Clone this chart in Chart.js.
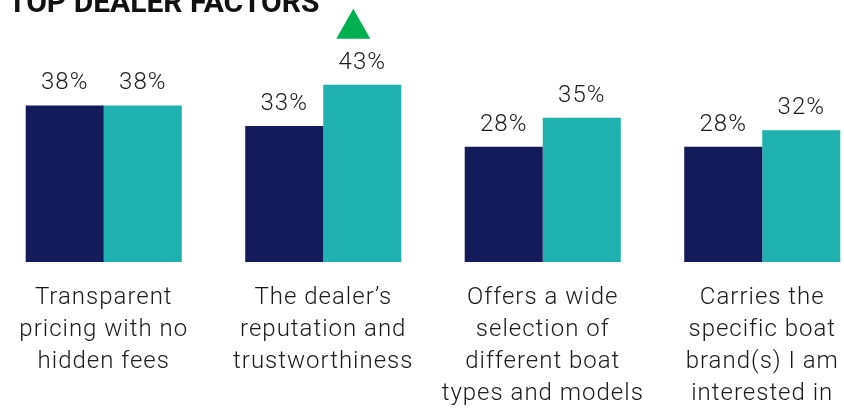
<!DOCTYPE html>
<html>
<head>
<meta charset="utf-8">
<script src="https://cdn.jsdelivr.net/npm/chart.js@4/dist/chart.umd.min.js"></script>
<style>
  html, body { margin: 0; padding: 0; background: #fff; overflow: hidden; }
  #wrap { position: absolute; left: -6px; top: 0; width: 878px; height: 430px; }
</style>
</head>
<body>
<div id="wrap"><canvas id="chart"></canvas></div>
<script>
// chart data
var categories = [
    ["Transparent", "pricing with no", "hidden fees"],
    ["The dealer\u2019s", "reputation and", "trustworthiness"],
    ["Offers a wide", "selection of", "different boat", "types and models"],
    ["Carries the", "specific boat", "brand(s) I am", "interested in"]
];
var seriesPrev = [38, 33, 28, 28];
var seriesCurr = [38, 43, 35, 32];
var titleText = "TOP DEALER FACTORS";
var upIndex = 1; // group with the green up arrow

var NAVY = "#141b5a";
var TEAL = "#1fb0b0";
var GREEN = "#00b050";

// value labels, title, arrow
var extras = {
    id: "extras",
    beforeDraw: function(chart) {
        chart.ctx.letterSpacing = "1px";
    },
    afterDatasetsDraw: function(chart) {
        var ctx = chart.ctx;
        ctx.save();
        ctx.letterSpacing = "1px";
        ctx.font = "300 24px Roboto";
        ctx.fillStyle = "#1a1a1a";
        ctx.textAlign = "center";
        ctx.textBaseline = "alphabetic";
        chart.data.datasets.forEach(function(ds, di) {
            chart.getDatasetMeta(di).data.forEach(function(bar, i) {
                ctx.fillText(ds.data[i] + "%", bar.x, bar.y - 16);
            });
        });

        // green arrow over the rising bar
        var up = chart.getDatasetMeta(1).data[upIndex];
        ctx.fillStyle = GREEN;
        ctx.beginPath();
        ctx.moveTo(up.x - 9, up.y - 76);
        ctx.lineTo(up.x + 8, up.y - 46);
        ctx.lineTo(up.x - 26, up.y - 46);
        ctx.closePath();
        ctx.fill();

        // title, clipped by top of the picture
        ctx.letterSpacing = "0px";
        ctx.font = "bold 30px Roboto";
        ctx.fillStyle = "#111";
        ctx.textAlign = "left";
        ctx.fillText(titleText, 14, 12);
        ctx.restore();
    }
};

new Chart(document.getElementById("chart"), {
    type: "bar",
    data: {
        labels: categories,
        datasets: [{
            data: seriesPrev,
            backgroundColor: NAVY
        }, {
            data: seriesCurr,
            backgroundColor: TEAL
        }]
    },
    options: {
        responsive: true,
        maintainAspectRatio: false,
        animation: false,
        layout: { padding: 0 },
        plugins: {
            legend: { display: false },
            tooltip: { enabled: false }
        },
        datasets: {
            bar: { categoryPercentage: 0.711, barPercentage: 1.0 }
        },
        scales: {
            x: {
                grid: { display: false, drawTicks: false },
                border: { display: false },
                ticks: {
                    color: "#1a1a1a",
                    padding: 20,
                    maxRotation: 0,
                    autoSkip: false,
                    font: { family: "Roboto", size: 24, weight: "300", lineHeight: "32px" }
                }
            },
            y: {
                display: false,
                min: 0,
                max: 63.6
            }
        }
    },
    plugins: [extras]
});
</script>
</body>
</html>
